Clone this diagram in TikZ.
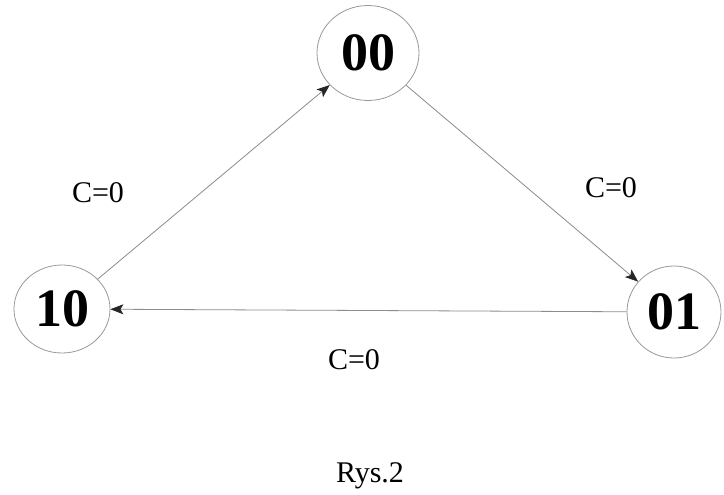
\documentclass[tikz,border=0pt]{standalone}
\usepackage{fontspec}
\setmainfont{Liberation Serif}
\usetikzlibrary{arrows.meta,shapes.geometric}
\begin{document}
\begin{tikzpicture}[x=1pt,y=-1pt,
  state/.style={draw=black!40, line width=0.8pt, ellipse, inner sep=0pt, font=\fontsize{54}{60}\selectfont\bfseries},
  conn/.style={draw=black!45, line width=0.8pt, -{Stealth[length=13pt,width=10pt,inset=3pt,black!85]}},
  lbl/.style={font=\fontsize{30}{34}\selectfont, anchor=base, inner sep=0pt}]
\useasboundingbox[fill=white] (0,0) rectangle (724,495);
\node[state, minimum width=102pt, minimum height=95pt] (s00) at (368,53) {00};
\node[state, minimum width=96pt, minimum height=88pt] (s10) at (62,309) {10};
\node[state, minimum width=94pt, minimum height=92pt] (s01) at (674,312) {01};
\draw[conn] (s10) -- (s00);
\draw[conn] (s00) -- (s01);
\draw[conn] (s01) -- (s10);
\node[lbl] (l1) at (98,202) {C=0};
\node[lbl] (l2) at (611,197) {C=0};
\node[lbl] (l3) at (354,369) {C=0};
\node[lbl] (cap) at (370,482) {Rys.2};
\end{tikzpicture}
\end{document}
